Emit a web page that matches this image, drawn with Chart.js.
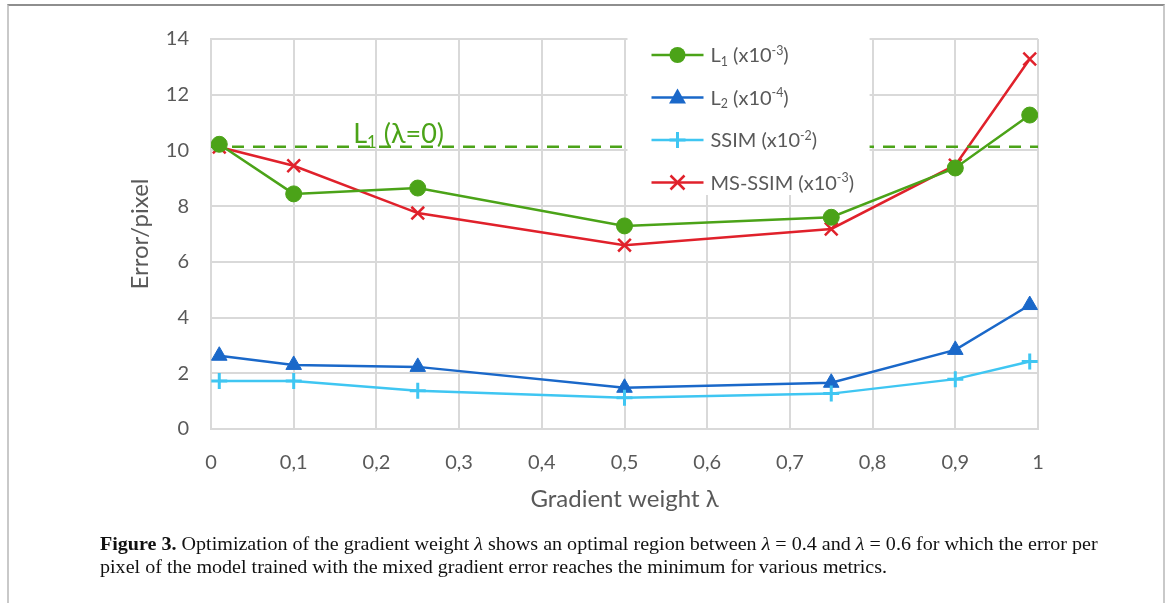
<!DOCTYPE html>
<html>
<head>
<meta charset="utf-8">
<script src="https://cdn.jsdelivr.net/npm/chart.js@4"></script>
<style>
    html, body { margin: 0; padding: 0; background: #fff; }
    #wrap { position: relative; width: 1170px; height: 603px; overflow: hidden; }
    #frame {
        position: absolute; left: 7px; top: 4px; width: 1154px; height: 700px;
        border-top: 2px solid #8e8e8e; border-left: 2px solid #c9c9c9; border-right: 2px solid #c9c9c9;
    }
    #chart { position: absolute; left: 0; top: 0; }
    #caption {
        position: absolute; left: 100px; top: 533px;
        font-family: "Liberation Serif", "DejaVu Serif", serif; font-size: 18px; line-height: 23px;
        color: #111; white-space: nowrap; transform-origin: 0 0;
    }
    #caption b { font-weight: bold; }
    #caption i { font-style: italic; }
</style>
</head>
<body>
<div id="wrap">
    <div id="frame"></div>
    <canvas id="chart" width="1170" height="603"></canvas>
    <div id="caption">
        <div id="cap1"><b>Figure 3.</b> Optimization of the gradient weight <i>λ</i> shows an optimal region between <i>λ</i> = 0.4 and <i>λ</i> = 0.6 for which the error per</div>
        <div>pixel of the model trained with the mixed gradient error reaches the minimum for various metrics.</div>
    </div>
</div>
<script>
// Data
const lambdas = [0.01, 0.1, 0.25, 0.5, 0.75, 0.9, 0.99];
const l1Values = [10.22, 8.44, 8.65, 7.29, 7.6, 9.37, 11.27];
const l2Values = [2.63, 2.3, 2.23, 1.48, 1.66, 2.84, 4.45];
const ssimValues = [1.72, 1.72, 1.37, 1.12, 1.27, 1.79, 2.42];
const msssimValues = [10.12, 9.45, 7.75, 6.6, 7.18, 9.47, 13.28];
const l1Baseline = 10.13;
const baselineX = [0, 1];
const yTicks = [0, 2, 4, 6, 8, 10, 12, 14];

const green = '#4ba318';
const blue = '#1a68c9';
const lightBlue = '#3fc6f2';
const red = '#e0212b';
const textGray = '#595959';
const gridGray = '#d9d9d9';

function points(values) {
    return lambdas.map((x, i) => ({ x: x, y: values[i] }));
}

// legend entries; each label is a list of [text, 'sub'|'sup'|''] parts
const legendItems = [
    { color: green, style: 'circle', label: [['L', ''], ['1', 'sub'], [' (x10', ''], ['-3', 'sup'], [')', '']] },
    { color: blue, style: 'triangle', label: [['L', ''], ['2', 'sub'], [' (x10', ''], ['-4', 'sup'], [')', '']] },
    { color: lightBlue, style: 'cross', label: [['SSIM (x10', ''], ['-2', 'sup'], [')', '']] },
    { color: red, style: 'crossRot', label: [['MS-SSIM (x10', ''], ['-3', 'sup'], [')', '']] }
];

function drawRichText(ctx, parts, x, y, size, color) {
    ctx.fillStyle = color;
    ctx.textBaseline = 'alphabetic';
    ctx.textAlign = 'left';
    parts.forEach(([t, kind]) => {
        let s = size, dy = 0;
        if (kind === 'sub') { s = size * 0.62; dy = size * 0.18; }
        if (kind === 'sup') { s = size * 0.62; dy = -size * 0.36; }
        ctx.font = s + 'px Lato';
        ctx.fillText(t, x, y + dy);
        x += ctx.measureText(t).width;
    });
}

function drawMarker(ctx, style, x, y, color) {
    ctx.save();
    ctx.fillStyle = color;
    ctx.strokeStyle = color;
    if (style === 'circle') {
        ctx.beginPath();
        ctx.arc(x, y, 8, 0, Math.PI * 2);
        ctx.fill();
    } else if (style === 'triangle') {
        ctx.beginPath();
        ctx.moveTo(x, y - 9);
        ctx.lineTo(x + 8.5, y + 6);
        ctx.lineTo(x - 8.5, y + 6);
        ctx.closePath();
        ctx.fill();
    } else if (style === 'cross') {
        ctx.lineWidth = 3;
        ctx.beginPath();
        ctx.moveTo(x - 8, y); ctx.lineTo(x + 8, y);
        ctx.moveTo(x, y - 8); ctx.lineTo(x, y + 8);
        ctx.stroke();
    } else {
        ctx.lineWidth = 2.5;
        ctx.beginPath();
        ctx.moveTo(x - 7, y - 7); ctx.lineTo(x + 7, y + 7);
        ctx.moveTo(x + 7, y - 7); ctx.lineTo(x - 7, y + 7);
        ctx.stroke();
    }
    ctx.restore();
}

const overlayPlugin = {
    id: 'overlay',
    afterDatasetsDraw(chart) {
        const ctx = chart.ctx;
        const xs = chart.scales.x, ys = chart.scales.y;

        // label above the dashed reference line
        const lx = xs.getPixelForValue(0.172);
        const ly = ys.getPixelForValue(l1Baseline) - 4;
        drawRichText(ctx, [['L', ''], ['1', 'sub'], [' (λ=0)', '']], lx, ly, 27, green);

        // legend box inside the plot
        const left = xs.getPixelForValue(0.5) + 3;
        const right = xs.getPixelForValue(0.8) - 3;
        const top = chart.chartArea.top - 2;
        const bottom = ys.getPixelForValue(8.4);
        ctx.save();
        ctx.fillStyle = '#fff';
        ctx.fillRect(left, top, right - left, bottom - top);
        legendItems.forEach((item, i) => {
            const cy = top + 18 + i * 42.5;
            ctx.strokeStyle = item.color;
            ctx.lineWidth = 2.5;
            ctx.beginPath();
            ctx.moveTo(left + 24, cy);
            ctx.lineTo(left + 76, cy);
            ctx.stroke();
            drawMarker(ctx, item.style, left + 50, cy, item.color);
            drawRichText(ctx, item.label, left + 83, cy + 7, 20, textGray);
        });
        ctx.restore();
    }
};

function lineSet(label, values, color, style, radius, width) {
    return {
        label: label,
        data: points(values),
        borderColor: color,
        backgroundColor: color,
        borderWidth: 2.5,
        pointStyle: style,
        pointRadius: radius,
        pointBorderWidth: width,
        pointHoverRadius: radius,
        tension: 0
    };
}

new Chart(document.getElementById('chart'), {
    type: 'line',
    data: {
        datasets: [
            {
                label: 'L1 baseline',
                data: baselineX.map(x => ({ x: x, y: l1Baseline })),
                borderColor: green,
                borderWidth: 2.5,
                borderDash: [12, 9],
                pointRadius: 0
            },
            lineSet('SSIM', ssimValues, lightBlue, 'cross', 8, 3),
            lineSet('L2', l2Values, blue, 'triangle', 9, 1),
            lineSet('L1', l1Values, green, 'circle', 8, 1),
            lineSet('MS-SSIM', msssimValues, red, 'crossRot', 9, 2.5)
        ]
    },
    options: {
        responsive: false,
        animation: false,
        events: [],
        layout: { padding: { left: 0, top: 39, right: 132, bottom: 83 } },
        plugins: {
            legend: { display: false },
            tooltip: { enabled: false }
        },
        scales: {
            x: {
                type: 'linear',
                min: 0,
                max: 1,
                grid: { color: gridGray, lineWidth: 2, drawTicks: false },
                border: { color: gridGray, width: 2 },
                ticks: {
                    stepSize: 0.1,
                    padding: 22,
                    color: textGray,
                    font: { family: 'Lato', size: 20 },
                    callback: v => String(Math.round(v * 10) / 10).replace('.', ',')
                },
                title: {
                    display: true,
                    text: 'Gradient weight λ',
                    color: textGray,
                    font: { family: 'Lato', size: 24 },
                    padding: { top: 0, bottom: 6 }
                },
                afterFit: s => { s.height = 91; }
            },
            y: {
                min: 0,
                max: 14,
                grid: { color: gridGray, lineWidth: 2, drawTicks: false },
                border: { color: gridGray, width: 2 },
                afterBuildTicks: s => { s.ticks = yTicks.map(v => ({ value: v })); },
                ticks: {
                    padding: 22,
                    color: textGray,
                    font: { family: 'Lato', size: 20 }
                },
                title: {
                    display: true,
                    text: 'Error/pixel',
                    color: textGray,
                    font: { family: 'Lato', size: 24 },
                    padding: { top: 126, bottom: 0 }
                },
                afterFit: s => { s.width = 211; }
            }
        }
    },
    plugins: [overlayPlugin]
});

// fit the caption to the width of the printed line
const cap = document.getElementById('caption');
const cap1 = document.getElementById('cap1');
const k = 998 / cap1.scrollWidth;
cap.style.transform = 'scaleX(' + k + ')';
</script>
</body>
</html>
